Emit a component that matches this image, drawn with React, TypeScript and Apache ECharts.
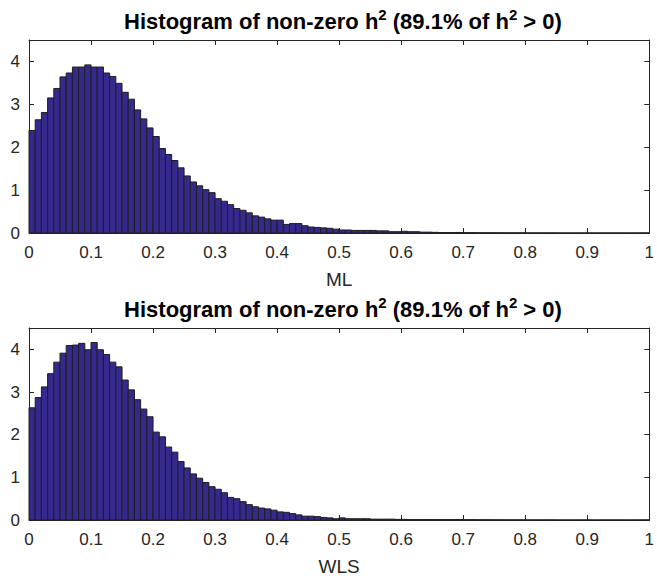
import React, { useEffect, useRef } from "react";
import * as echarts from "echarts";

const binWidth = 0.01;
const mlValues = [
  2.39, 2.64, 2.81, 3.15, 3.37, 3.64, 3.73, 3.87, 3.87, 3.92,
  3.87, 3.87, 3.73, 3.65, 3.49, 3.28, 3.12, 2.87, 2.66, 2.45,
  2.25, 1.97, 1.83, 1.69, 1.52, 1.33, 1.19, 1.10, 1.01, 0.94,
  0.80, 0.74, 0.66, 0.57, 0.53, 0.47, 0.40, 0.37, 0.33, 0.30,
  0.30, 0.20, 0.22, 0.22, 0.17, 0.14, 0.13, 0.12, 0.11, 0.09,
  0.07, 0.07, 0.06, 0.06, 0.06, 0.06, 0.05, 0.05, 0.03, 0.03,
  0.04, 0.03, 0.03, 0.02, 0.02, 0.015, 0.01, 0.01, 0.01, 0.01,
  0.008, 0.008, 0.006, 0.005, 0.005, 0.004, 0.004, 0.003, 0.003, 0.003,
  0.002, 0.002, 0.002, 0.002, 0.002, 0.001, 0.001, 0.001, 0.001, 0.001,
  0.001, 0.001, 0.001, 0.001, 0.001, 0.001, 0.001, 0.001, 0.001, 0.002,
];
const wlsValues = [
  2.63, 2.87, 3.12, 3.43, 3.70, 3.91, 4.09, 4.10, 4.14, 3.99,
  4.16, 3.99, 3.88, 3.70, 3.59, 3.28, 3.05, 2.82, 2.60, 2.42,
  2.06, 1.95, 1.71, 1.59, 1.37, 1.22, 1.08, 0.98, 0.88, 0.78,
  0.72, 0.64, 0.53, 0.50, 0.43, 0.36, 0.31, 0.28, 0.26, 0.23,
  0.19, 0.18, 0.15, 0.12, 0.09, 0.09, 0.08, 0.06, 0.05, 0.03,
  0.05, 0.03, 0.03, 0.03, 0.03, 0.02, 0.02, 0.02, 0.02, 0.015,
  0.015, 0.01, 0.01, 0.01, 0.01, 0.01, 0.01, 0.01, 0.01, 0.01,
  0.008, 0.008, 0.006, 0.005, 0.005, 0.004, 0.004, 0.003, 0.003, 0.003,
  0.002, 0.002, 0.002, 0.002, 0.002, 0.001, 0.001, 0.001, 0.001, 0.001,
  0.001, 0.001, 0.001, 0.001, 0.001, 0.001, 0.001, 0.001, 0.001, 0.002,
];
const xLabels = ["ML", "WLS"];
const titleText = "Histogram of non-zero h{sup|2} (89.1% of h{sup|2} > 0)";

const FONT = "'Liberation Sans', Arial, Helvetica, sans-serif";
const TXT = "#262626";
const FILL = "#34298d";
const EDGE = "#1e1e1e";

function toBins(vals: number[]) {
  return vals.map((v, i) => [i * binWidth, (i + 1) * binWidth, v]);
}

export default function App() {
  const ref = useRef<HTMLDivElement>(null);
  useEffect(() => {
    if (!ref.current) return;
    const chart = echarts.init(ref.current, undefined, { renderer: "svg" });
    const grids = [
      { left: 29, width: 626, top: 40, height: 193 },
      { left: 29, width: 626, top: 328, height: 192 },
    ];
    const axisLine = { show: true, onZero: false, lineStyle: { color: TXT, width: 1 } };
    const tick = { show: true, inside: true, length: 5, lineStyle: { color: TXT } };
    const xAxes: any[] = [];
    const yAxes: any[] = [];
    grids.forEach((g, gi) => {
      xAxes.push({
        type: "value", gridIndex: gi, min: 0, max: 1, interval: 0.1, position: "bottom",
        axisLine, axisTick: tick, splitLine: { show: false },
        axisLabel: { color: TXT, fontSize: 17, fontFamily: FONT, margin: 11,
          formatter: (v: number) => (Math.round(v * 10) / 10).toString() },
        name: xLabels[gi], nameLocation: "middle", nameGap: 37,
        nameTextStyle: { color: TXT, fontSize: 19, fontFamily: FONT },
      });
      xAxes.push({
        type: "value", gridIndex: gi, min: 0, max: 1, interval: 0.1, position: "top",
        axisLine, axisTick: tick, splitLine: { show: false }, axisLabel: { show: false },
      });
      yAxes.push({
        type: "value", gridIndex: gi, min: 0, max: 4.5, interval: 1, position: "left",
        axisLine, axisTick: tick, splitLine: { show: false },
        axisLabel: { color: TXT, fontSize: 17, fontFamily: FONT, margin: 9, showMaxLabel: false,
          formatter: (v: number) => (v > 4.2 ? "" : String(v)) },
      });
      yAxes.push({
        type: "value", gridIndex: gi, min: 0, max: 4.5, interval: 1, position: "right",
        axisLine, axisTick: tick, splitLine: { show: false }, axisLabel: { show: false },
      });
    });
    const renderItem = (_params: any, api: any) => {
      const p0 = api.coord([api.value(0), api.value(2)]);
      const p1 = api.coord([api.value(1), 0]);
      return {
        type: "rect",
        shape: { x: p0[0], y: p0[1], width: p1[0] - p0[0], height: p1[1] - p0[1] },
        style: { fill: FILL, stroke: EDGE, lineWidth: 1 },
      };
    };
    const titleRich = {
      sup: { fontSize: 15, fontWeight: "bold", fontFamily: FONT, color: "#000", padding: [0, 0, 13, 0] },
    };
    const tStyle = { fontSize: 22, fontWeight: "bold", fontFamily: FONT, color: "#000", rich: titleRich };
    chart.setOption({
      animation: false,
      title: [
        { text: titleText, left: 338, top: 2, textAlign: "center", textStyle: tStyle },
        { text: titleText, left: 338, top: 290, textAlign: "center", textStyle: tStyle },
      ],
      grid: grids,
      xAxis: xAxes,
      yAxis: yAxes,
      series: [
        { type: "custom", xAxisIndex: 0, yAxisIndex: 0, renderItem, encode: { x: [0, 1], y: 2 },
          data: toBins(mlValues) },
        { type: "custom", xAxisIndex: 2, yAxisIndex: 2, renderItem, encode: { x: [0, 1], y: 2 },
          data: toBins(wlsValues) },
      ],
    });
    return () => chart.dispose();
  }, []);
  return <div ref={ref} style={{ width: 657, height: 579, position: "absolute", left: 0, top: 0 }} />;
}
